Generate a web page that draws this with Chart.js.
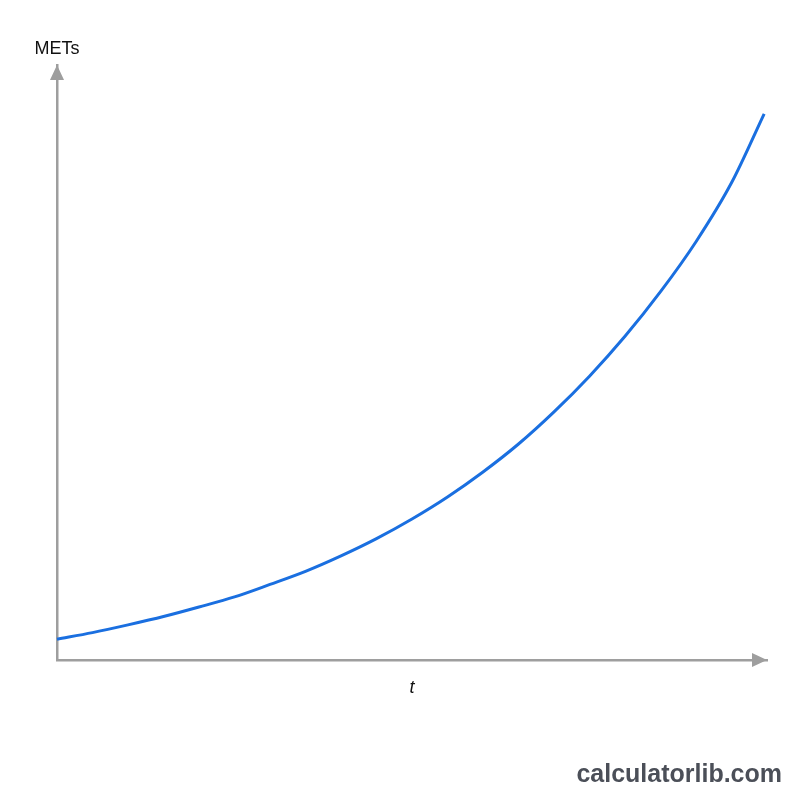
<!DOCTYPE html>
<html>
<head>
<meta charset="utf-8">
<title>METs over time</title>
<script src="https://cdn.jsdelivr.net/npm/chart.js@4"></script>
<style>
  html, body { margin: 0; padding: 0; background: #fff; }
  canvas { display: block; }
</style>
</head>
<body>
<canvas id="metsChart" width="800" height="800"></canvas>
<script>
// values (time in arbitrary units, METs)
const times = [0, 0.5, 1, 1.5, 2, 2.5, 3, 3.5, 4, 4.5, 5, 5.5, 6, 6.5, 7, 7.5, 8, 8.5, 9, 9.5, 9.96]
const mets = [0.35, 0.46, 0.59, 0.73, 0.89, 1.06, 1.27, 1.49, 1.75, 2.04, 2.37, 2.74, 3.16, 3.63, 4.17, 4.77, 5.44, 6.19, 7.03, 8.02, 9.18]
const xTitle = 't'
const yTitle = 'METs'
const watermark = 'calculatorlib.com'

const axisColor = '#9e9e9e'

// arrow heads + labels drawn on top of the scales
const axisDecor = {
  id: 'axisDecor',
  afterDraw(chart) {
    const ctx = chart.ctx
    const a = chart.chartArea
    ctx.save()
    ctx.fillStyle = axisColor
    // y arrow
    ctx.beginPath()
    ctx.moveTo(a.left, a.top)
    ctx.lineTo(a.left - 7, a.top + 15)
    ctx.lineTo(a.left + 7, a.top + 15)
    ctx.closePath()
    ctx.fill()
    // x arrow
    ctx.beginPath()
    ctx.moveTo(a.right, a.bottom)
    ctx.lineTo(a.right - 15, a.bottom - 7)
    ctx.lineTo(a.right - 15, a.bottom + 7)
    ctx.closePath()
    ctx.fill()

    ctx.fillStyle = '#111'
    ctx.textAlign = 'center'
    ctx.textBaseline = 'alphabetic'
    ctx.font = '18px "Liberation Sans", Arial, sans-serif'
    ctx.fillText(yTitle, a.left, a.top - 11)
    ctx.font = 'italic 18px "Liberation Sans", Arial, sans-serif'
    ctx.fillText(xTitle, (a.left + a.right) / 2, a.bottom + 33)

    ctx.fillStyle = '#4b4f58'
    ctx.textAlign = 'right'
    ctx.font = 'bold 25px "Liberation Sans", Arial, sans-serif'
    ctx.fillText(watermark, 782, 782)
    ctx.restore()
  }
}

const ctx = document.getElementById('metsChart')
new Chart(ctx, {
  type: 'line',
  data: {
    datasets: [{
      data: times.map((t, i) => ({ x: t, y: mets[i] })),
      borderColor: '#1a6fe0',
      borderWidth: 3,
      pointRadius: 0,
      cubicInterpolationMode: 'monotone',
      fill: false,
      clip: false
    }]
  },
  options: {
    responsive: false,
    animation: false,
    layout: { padding: { left: 57, right: 33, top: 65, bottom: 140 } },
    plugins: { legend: { display: false }, tooltip: { enabled: false } },
    scales: {
      x: {
        type: 'linear',
        min: 0,
        max: 10,
        grid: { display: false },
        ticks: { display: false },
        border: { color: axisColor, width: 2.5 },
        afterFit(scale) { scale.height = 0 }
      },
      y: {
        min: 0,
        max: 10,
        grid: { display: false },
        ticks: { display: false },
        border: { color: axisColor, width: 2.5 },
        afterFit(scale) { scale.width = 0 }
      }
    }
  },
  plugins: [axisDecor]
})
</script>
</body>
</html>
